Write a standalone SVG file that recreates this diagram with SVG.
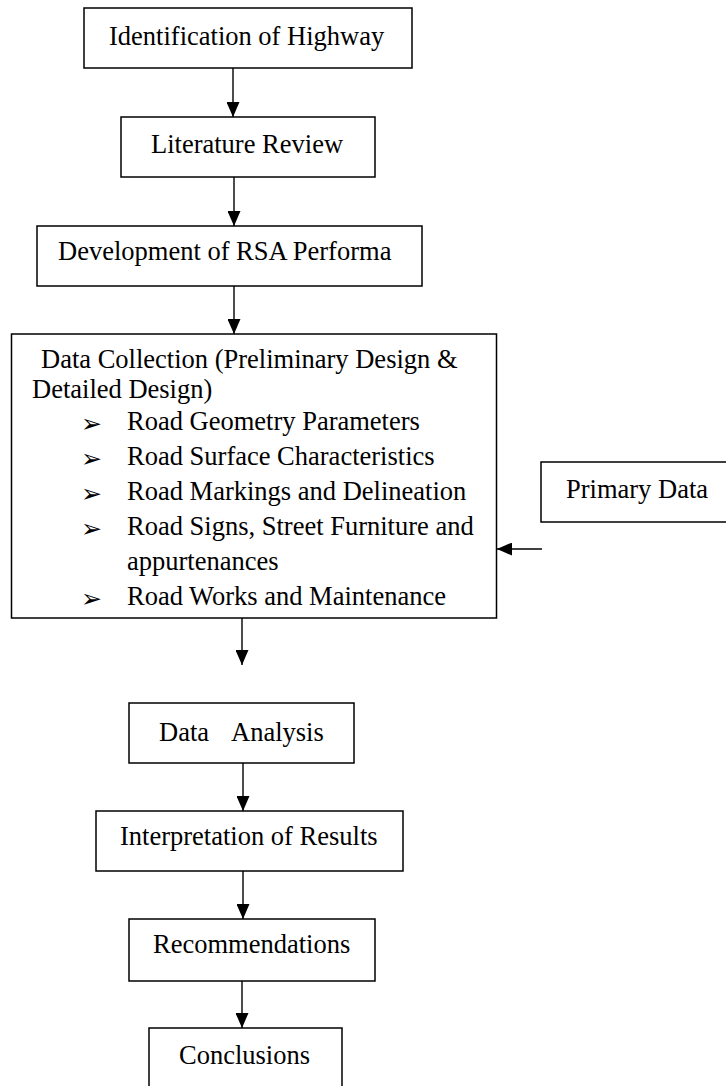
<svg xmlns="http://www.w3.org/2000/svg" width="726" height="1086" viewBox="0 0 726 1086">
<style>
  .box { fill: #fff; stroke: #000; stroke-width: 1.5; }
  .t { font-family: "Liberation Serif", "Times New Roman", serif; font-size: 26.5px; fill: #000; }
  .b { font-family: "DejaVu Sans", sans-serif; font-size: 25px; fill: #000; }
  .c { fill: none; stroke: #000; stroke-width: 1.4; marker-end: url(#arr); }
</style>
<defs>
  <marker id="arr" markerUnits="userSpaceOnUse" markerWidth="15" markerHeight="13" refX="15" refY="6.5" orient="auto">
    <path d="M0,0 L15,6.5 L0,13 z" fill="#000"/>
  </marker>
</defs>
<rect width="726" height="1086" fill="#fff"/>

<g id="identification">
  <rect class="box" x="84" y="8" width="328" height="60"/>
  <text class="t" x="109" y="45">Identification of Highway</text>
</g>
<g id="literature">
  <rect class="box" x="121" y="117" width="254" height="60"/>
  <text class="t" x="151" y="153">Literature Review</text>
</g>
<g id="development">
  <rect class="box" x="37" y="226" width="385" height="60"/>
  <text class="t" x="58" y="260">Development of RSA Performa</text>
</g>
<g id="datacollection">
  <rect class="box" x="11.5" y="334" width="485" height="284"/>
  <text class="t" x="41" y="368">Data Collection (Preliminary Design &amp;</text>
  <text class="t" x="32" y="398">Detailed Design)</text>
  <text class="b" x="81" y="432">➢</text>
  <text class="t" x="127" y="430">Road Geometry Parameters</text>
  <text class="b" x="81" y="467">➢</text>
  <text class="t" x="127" y="465">Road Surface Characteristics</text>
  <text class="b" x="81" y="502">➢</text>
  <text class="t" x="127" y="500">Road Markings and Delineation</text>
  <text class="b" x="81" y="537">➢</text>
  <text class="t" x="127" y="535">Road Signs, Street Furniture and</text>
  <text class="t" x="127" y="570">appurtenances</text>
  <text class="b" x="81" y="607">➢</text>
  <text class="t" x="127" y="605">Road Works and Maintenance</text>
</g>
<g id="primarydata">
  <rect class="box" x="541" y="462" width="190" height="60"/>
  <text class="t" x="566" y="498">Primary Data</text>
</g>
<g id="dataanalysis">
  <rect class="box" x="129" y="703" width="225" height="60"/>
  <text class="t" y="741"><tspan x="159">Data</tspan><tspan x="231">Analysis</tspan></text>
</g>
<g id="interpretation">
  <rect class="box" x="96" y="811" width="307" height="60"/>
  <text class="t" x="120" y="845">Interpretation of Results</text>
</g>
<g id="recommendations">
  <rect class="box" x="129" y="919" width="246" height="62"/>
  <text class="t" x="153" y="953">Recommendations</text>
</g>
<g id="conclusions">
  <rect class="box" x="149" y="1028" width="193" height="70"/>
  <text class="t" x="179" y="1064">Conclusions</text>
</g>

<g id="connectors">
  <line class="c" x1="233" y1="68" x2="233" y2="117"/>
  <line class="c" x1="234" y1="177" x2="234" y2="226"/>
  <line class="c" x1="234" y1="286" x2="234" y2="334"/>
  <line class="c" x1="542" y1="549" x2="497" y2="549"/>
  <line class="c" x1="242" y1="618" x2="242" y2="665"/>
  <line class="c" x1="243" y1="763" x2="243" y2="811"/>
  <line class="c" x1="243" y1="871" x2="243" y2="919"/>
  <line class="c" x1="242" y1="981" x2="242" y2="1028"/>
</g>
</svg>
